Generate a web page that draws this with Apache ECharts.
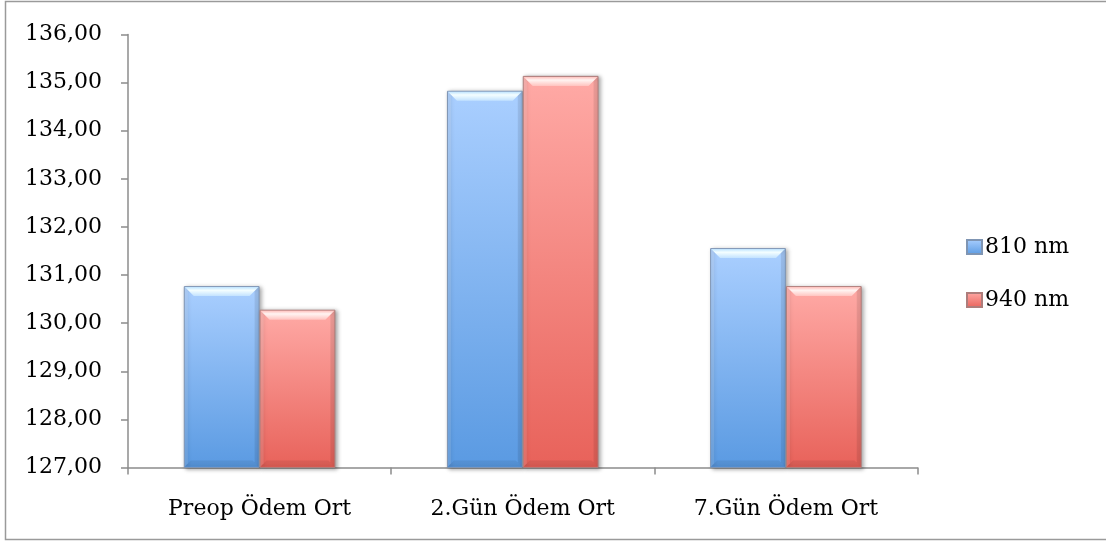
<!DOCTYPE html>
<html>
<head>
<meta charset="utf-8">
<title>Ödem Ortalamaları</title>
<script src="https://cdn.jsdelivr.net/npm/echarts@6/dist/echarts.min.js"></script>
<style>
  html, body { margin: 0; padding: 0; background: #fff; }
  #chart { width: 1106px; height: 543px; }
</style>
</head>
<body>
<div id="chart"></div>
<script>
// Kategoriler ve seri değerleri
const categories = ['Preop Ödem Ort', '2.Gün Ödem Ort', '7.Gün Ödem Ort'];
const seriesNames = ['810 nm', '940 nm'];
const values810 = [130.77, 134.83, 131.56];
const values940 = [130.28, 135.14, 130.77];
const yTickLabels = ['127,00', '128,00', '129,00', '130,00', '131,00', '132,00', '133,00', '134,00', '135,00', '136,00'];
const yMin = 127, yMax = 136, yStep = 1;

const FONT = 'DejaVu Serif';
const BAR_FRACTION = 0.288;

const palettes = [
  { top: '#aacfff', bottom: '#5a9ae2', border: '#7f95b3', bevelTop: '#f4feff', bevelEdge: '#bfe4ff', bevelLow: '#c2e2ff' },
  { top: '#ffaaa6', bottom: '#e8625a', border: '#ad7d7b', bevelTop: '#fff4f2', bevelEdge: '#ffc0bc', bevelLow: '#ffc4c0' }
];

function bodyGradient(p) {
  return new echarts.graphic.LinearGradient(0, 0, 0, 1, [
    { offset: 0, color: p.top },
    { offset: 1, color: p.bottom }
  ]);
}

// Üst kenardaki eğimli (bevel) yüzey ve kenar gölgeleri
function bevelSeries(idx, data) {
  const p = palettes[idx];
  return {
    type: 'custom',
    silent: true,
    z: 5,
    data: data.map((v, i) => [i, v]),
    encode: { x: 0, y: 1 },
    renderItem: function (params, api) {
      const cat = api.value(0);
      const top = api.coord([cat, api.value(1)]);
      const base = api.coord([cat, yMin]);
      const band = api.size([1, 0])[0];
      const bw = band * BAR_FRACTION;
      const x0 = top[0] - bw + idx * bw;
      const x1 = x0 + bw;
      const y0 = top[1];
      const y1 = base[1];
      const d = Math.min(10, (y1 - y0) / 2);
      return {
        type: 'group',
        children: [
          {
            type: 'polygon',
            shape: { points: [[x0 + 1, y0 + 1], [x1 - 1, y0 + 1], [x1 - d, y0 + d], [x0 + d, y0 + d]] },
            style: {
              fill: new echarts.graphic.LinearGradient(0, 0, 0, 1, [
                { offset: 0, color: p.bevelEdge },
                { offset: 0.35, color: p.bevelTop },
                { offset: 1, color: p.bevelLow }
              ])
            }
          },
          {
            type: 'polygon',
            shape: { points: [[x0 + 1, y1 - 1], [x1 - 1, y1 - 1], [x1 - 7, y1 - 7], [x0 + 7, y1 - 7]] },
            style: { fill: 'rgba(0,0,0,0.07)' }
          },
          {
            type: 'polygon',
            shape: { points: [[x1 - 1, y0 + 1], [x1 - 1, y1 - 1], [x1 - 5, y1 - 5], [x1 - 5, y0 + 5]] },
            style: { fill: 'rgba(0,0,0,0.09)' }
          },
          {
            type: 'polygon',
            shape: { points: [[x0 + 1, y0 + 1], [x0 + 1, y1 - 1], [x0 + 4, y1 - 4], [x0 + 4, y0 + 4]] },
            style: { fill: 'rgba(255,255,255,0.12)' }
          }
        ]
      };
    }
  };
}

function barSeries(idx, data) {
  const p = palettes[idx];
  return {
    name: seriesNames[idx],
    type: 'bar',
    data: data,
    barWidth: (BAR_FRACTION * 100) + '%',
    barGap: '0%',
    z: 2,
    itemStyle: {
      color: bodyGradient(p),
      borderColor: p.border,
      borderWidth: 1,
      shadowColor: 'rgba(0,0,0,0.35)',
      shadowBlur: 4,
      shadowOffsetX: 2,
      shadowOffsetY: 1
    },
    emphasis: { disabled: true }
  };
}

const chart = echarts.init(document.getElementById('chart'), null, { renderer: 'canvas' });

chart.setOption({
  animation: false,
  backgroundColor: '#ffffff',
  textStyle: { fontFamily: FONT, color: '#000' },
  graphic: [{
    type: 'rect',
    shape: { x: 5.5, y: 1.5, width: 1110, height: 538 },
    style: { fill: 'none', stroke: '#9a9a9a', lineWidth: 1.5 },
    silent: true,
    z: -10
  }],
  grid: { left: 128, right: 188.5, top: 34.5, bottom: 75.5 },
  legend: {
    orient: 'vertical',
    left: 966,
    top: 236,
    padding: 0,
    itemWidth: 15,
    itemHeight: 14,
    itemGap: 31,
    icon: 'rect',
    data: seriesNames,
    textStyle: { fontFamily: FONT, fontSize: 22, lineHeight: 22, color: '#000', padding: [0, 0, 0, -2] },
    selectedMode: false
  },
  xAxis: {
    type: 'category',
    data: categories,
    boundaryGap: true,
    axisLine: { lineStyle: { color: '#8c8c8c', width: 1.5 } },
    axisTick: { show: true, length: 7, alignWithLabel: false, lineStyle: { color: '#8c8c8c', width: 1.5 } },
    axisLabel: { fontFamily: FONT, fontSize: 22, color: '#000', margin: 31 },
    splitLine: { show: false }
  },
  yAxis: {
    type: 'value',
    min: yMin,
    max: yMax,
    interval: yStep,
    axisLine: { show: true, lineStyle: { color: '#8c8c8c', width: 1.5 } },
    axisTick: { show: true, length: 7, lineStyle: { color: '#8c8c8c', width: 1.5 } },
    axisLabel: {
      fontFamily: FONT,
      fontSize: 22,
      color: '#000',
      margin: 26,
      formatter: function (v) { return yTickLabels[Math.round((v - yMin) / yStep)]; }
    },
    splitLine: { show: false }
  },
  series: [
    barSeries(0, values810),
    barSeries(1, values940),
    bevelSeries(0, values810),
    bevelSeries(1, values940)
  ]
});
</script>
</body>
</html>
